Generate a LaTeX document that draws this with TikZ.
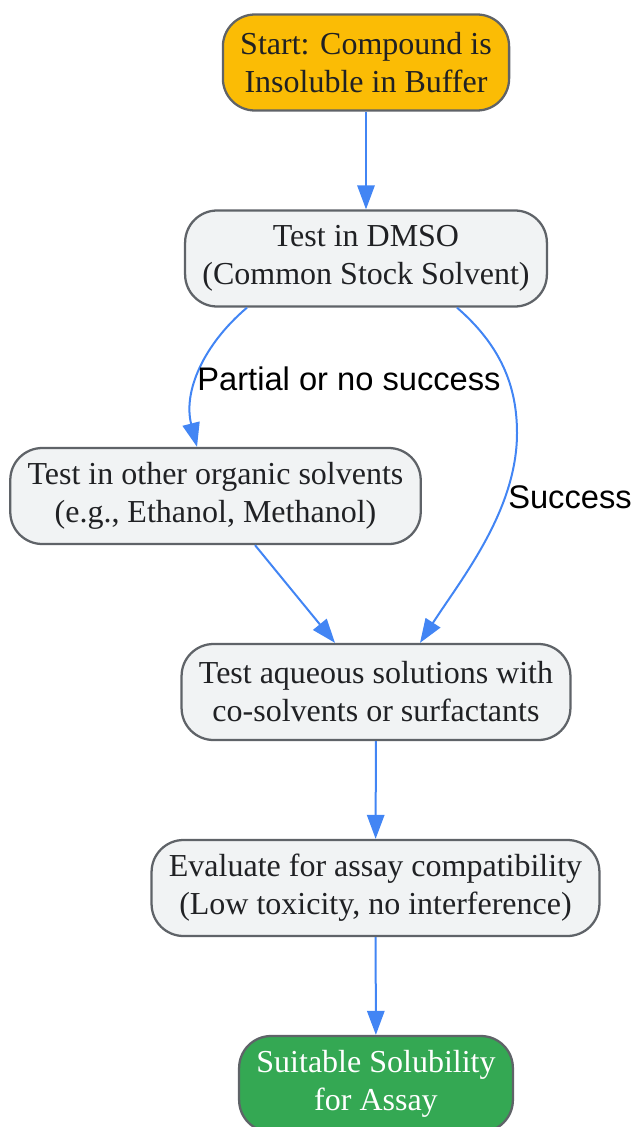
\documentclass[tikz,border=0pt]{standalone}
\usepackage{fontspec}
\setmainfont{Liberation Serif}
\newfontfamily\edgefont{Liberation Sans}
\usetikzlibrary{arrows.meta,calc}

\definecolor{flowblue}{HTML}{4285F4}
\definecolor{boxline}{HTML}{5F6368}
\definecolor{boxfill}{HTML}{F1F3F4}
\definecolor{boxtext}{HTML}{202124}
\definecolor{startfill}{HTML}{FBBC05}
\definecolor{endfill}{HTML}{34A853}

\tikzset{
  stepbox/.style={draw=boxline, line width=1.7pt, rounded corners=24pt,
    fill=boxfill, text=boxtext, align=center, inner xsep=13pt,
    minimum height=72pt, font=\fontsize{24}{28.5}\selectfont},
  flow/.style={draw=flowblue, line width=1.5pt,
    -{Triangle[length=18pt,width=13pt]}},
  edgelabel/.style={font=\edgefont\fontsize{24.5}{28}\selectfont, text=black}
}

\begin{document}
\begin{tikzpicture}[x=0.75pt,y=-0.75pt]
    \useasboundingbox (0,0) rectangle (631,1127);

    \node[stepbox,fill=startfill] (start) at (366,62.5) {Start: Compound is\\Insoluble in Buffer};
    \node[stepbox] (dmso) at (366,258.5) {Test in DMSO\\(Common Stock Solvent)};
    \node[stepbox] (other) at (215.5,496) {Test in other organic solvents\\(e.g., Ethanol, Methanol)};
    \node[stepbox] (aqueous) at (376,692) {Test aqueous solutions with\\co-solvents or surfactants};
    \node[stepbox] (evaluate) at (375.5,888) {Evaluate for assay compatibility\\(Low toxicity, no interference)};
    \node[stepbox,fill=endfill,text=white] (suitable) at (376,1084) {Suitable Solubility\\for Assay};

    \draw[flow] (start) -- (dmso);
    \draw[flow] ($(dmso.south)+(-119,0)$) .. controls (203,345) and (183,392) .. ($(other.north)+(-18.5,0)$);
    \draw[flow] ($(dmso.south)+(91,0)$) .. controls (500,345) and (517,385) .. (517,433)
      .. controls (517,510) and (462,578) .. ($(aqueous.north)+(44,0)$);
    \draw[flow] ($(other.south)+(39.5,0)$) -- ($(aqueous.north)+(-41,0)$);
    \draw[flow] (aqueous) -- (evaluate);
    \draw[flow] (evaluate) -- (suitable);

    \node[edgelabel] (partial) at (349,379) {Partial or no success};
    \node[edgelabel] (success) at (570,497) {Success};
  \end{tikzpicture}
\end{document}
